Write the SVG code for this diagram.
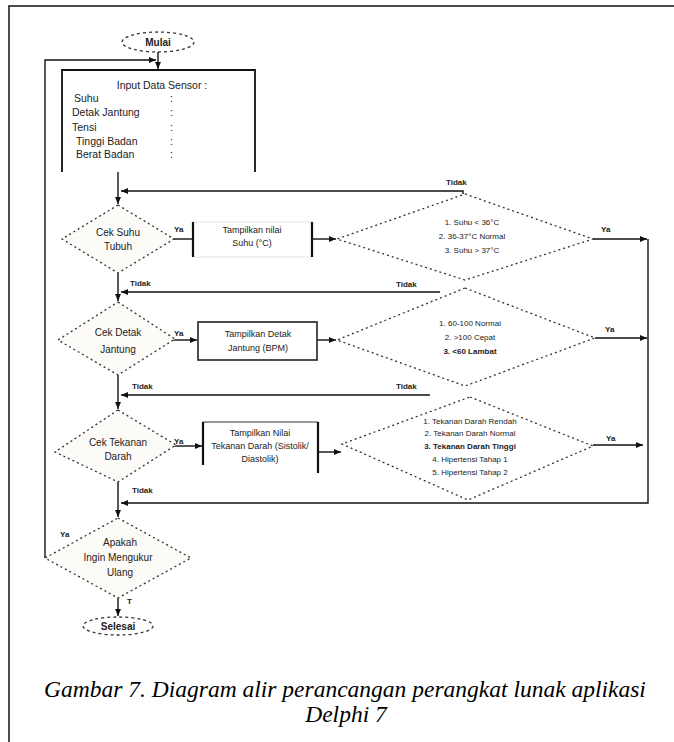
<svg xmlns="http://www.w3.org/2000/svg" width="674" height="742" viewBox="0 0 674 742">
<style>
.t{font-family:"Liberation Sans",Arial,sans-serif;fill:#222;}
.in{font-size:10.5px;}
.dt{font-size:10px;text-anchor:middle;}
.bx{font-size:9px;text-anchor:middle;}
.rt{font-size:8px;text-anchor:middle;}
.lb{font-size:8px;font-weight:bold;}
.cap{font-family:"Liberation Serif","Times New Roman",serif;font-style:italic;font-size:23.5px;fill:#000;text-anchor:middle;}
.dia{fill:#fdfbf8;stroke:#333;stroke-width:1.3;stroke-dasharray:2 3;}
.rdia{fill:none;stroke:#333;stroke-width:1.3;stroke-dasharray:2 3;}
.term{fill:#fff;stroke:#333;stroke-width:1.3;stroke-dasharray:3 3;}
.ln{fill:none;stroke:#111;stroke-width:1.4;}
.bar{fill:none;stroke:#111;stroke-width:2.2;}
</style>
<defs>
<marker id="ah" markerWidth="8" markerHeight="8" refX="7" refY="4" orient="auto" markerUnits="userSpaceOnUse">
<path d="M0,1 L7,4 L0,7 Z" fill="#111"/>
</marker>
</defs>
<rect width="674" height="742" fill="#fff"/>
<path d="M9,742 V6 H674" fill="none" stroke="#111" stroke-width="1.5"/>

<g id="connectors">
<path class="ln" d="M158,52 V69" marker-end="url(#ah)"/>
<path class="ln" d="M45,558 V60 H156" marker-end="url(#ah)"/>
<path class="ln" d="M118,172 V204" marker-end="url(#ah)"/>
<path class="ln" d="M463,194 V191 H121" marker-end="url(#ah)"/>
<path class="ln" d="M172,239 H193"/>
<path class="ln" d="M312,239 H336" marker-end="url(#ah)"/>
<path class="ln" d="M593,239 H647" marker-end="url(#ah)"/>
<path class="ln" d="M648,239 V503 H121" marker-end="url(#ah)"/>
<path class="ln" d="M595,338 H647" marker-end="url(#ah)"/>
<path class="ln" d="M593,445 H643" marker-end="url(#ah)"/>
<path class="ln" d="M118,273 V301" marker-end="url(#ah)"/>
<path class="ln" d="M440,292 H121" marker-end="url(#ah)"/>
<path class="ln" d="M172,340 H197" marker-end="url(#ah)"/>
<path class="ln" d="M317,340 H336" marker-end="url(#ah)"/>
<path class="ln" d="M118,375 V409" marker-end="url(#ah)"/>
<path class="ln" d="M430,395 H121" marker-end="url(#ah)"/>
<path class="ln" d="M173,446 H202" marker-end="url(#ah)"/>
<path class="ln" d="M318,452 H341" marker-end="url(#ah)"/>
<path class="ln" d="M118,482 V517" marker-end="url(#ah)"/>
<path class="ln" d="M118,598 V616" marker-end="url(#ah)"/>
<text class="t lb" x="446" y="185">Tidak</text>
<text class="t lb" x="601" y="232">Ya</text>
<text class="t lb" x="130" y="286">Tidak</text>
<text class="t lb" x="396" y="287">Tidak</text>
<text class="t lb" x="174" y="232">Ya</text>
<text class="t lb" x="174" y="336">Ya</text>
<text class="t lb" x="605" y="332">Ya</text>
<text class="t lb" x="132" y="389">Tidak</text>
<text class="t lb" x="396" y="389">Tidak</text>
<text class="t lb" x="174" y="444">Ya</text>
<text class="t lb" x="606" y="441">Ya</text>
<text class="t lb" x="132" y="493">Tidak</text>
<text class="t lb" x="60" y="537">Ya</text>
<text class="t lb" x="127" y="604">T</text>
</g>

<g id="start">
<ellipse class="term" cx="158" cy="42" rx="36" ry="10"/>
<text class="t dt" x="158" y="45.5" font-weight="bold">Mulai</text>
</g>

<g id="input">
<path class="bar" d="M62,172 V70 H255 V172" style="stroke-width:1.8"/>
<text class="t in" x="162" y="89" text-anchor="middle">Input Data Sensor :</text>
<text class="t in" x="74" y="102">Suhu</text><text class="t in" x="170" y="102">:</text>
<text class="t in" x="72" y="116">Detak Jantung</text><text class="t in" x="170" y="116">:</text>
<text class="t in" x="72" y="131">Tensi</text><text class="t in" x="170" y="131">:</text>
<text class="t in" x="76" y="145">Tinggi Badan</text><text class="t in" x="170" y="145">:</text>
<text class="t in" x="76" y="158">Berat Badan</text><text class="t in" x="170" y="158">:</text>
</g>

<g id="d1">
<polygon class="dia" points="118,205 174,239 118,273 62,239"/>
<text class="t dt" x="118" y="236">Cek Suhu</text>
<text class="t dt" x="118" y="250">Tubuh</text>
</g>
<g id="b1">
<rect x="193" y="222" width="119" height="35" fill="none" stroke="#e4e4e4" stroke-width="1"/>
<path class="bar" d="M193,222 V257 M312,222 V257"/>
<text class="t bx" x="252" y="233">Tampilkan nilai</text>
<text class="t bx" x="252" y="246">Suhu (°C)</text>
</g>
<g id="r1">
<polygon class="rdia" points="465,194 593,239 465,280 337,239"/>
<text class="t rt" x="472" y="225">1. Suhu &lt; 36°C</text>
<text class="t rt" x="472" y="239">2. 36-37°C Normal</text>
<text class="t rt" x="472" y="253">3. Suhu &gt; 37°C</text>
</g>

<g id="d2">
<polygon class="dia" points="118,302 175,339 118,375 58,340"/>
<text class="t dt" x="118" y="336">Cek Detak</text>
<text class="t dt" x="118" y="353">Jantung</text>
</g>
<g id="b2">
<rect x="198" y="322" width="119" height="38" fill="#fff" stroke="#222" stroke-width="1.6"/>
<text class="t bx" x="258" y="337">Tampilkan Detak</text>
<text class="t bx" x="258" y="351">Jantung (BPM)</text>
</g>
<g id="r2">
<polygon class="rdia" points="465,288 595,338 465,386 337,340"/>
<text class="t rt" x="470" y="326">1. 60-100 Normal</text>
<text class="t rt" x="470" y="340">2. &gt;100 Cepat</text>
<text class="t rt" x="470" y="354" font-weight="bold">3. &lt;60 Lambat</text>
</g>

<g id="d3">
<polygon class="dia" points="118,410 176,445 118,482 55,452"/>
<text class="t dt" x="118" y="446">Cek Tekanan</text>
<text class="t dt" x="118" y="460">Darah</text>
</g>
<g id="b3">
<path d="M203,422 H318" fill="none" stroke="#333" stroke-width="1.2"/>
<path class="bar" d="M203,422 V465 M318,422 V473"/>
<text class="t bx" x="260" y="436">Tampilkan Nilai</text>
<text class="t bx" x="260" y="449">Tekanan Darah (Sistolik/</text>
<text class="t bx" x="260" y="462">Diastolik)</text>
</g>
<g id="r3">
<polygon class="rdia" points="470,397 593,446 468,500 342,444"/>
<text class="t rt" x="470" y="424">1. Tekanan Darah Rendah</text>
<text class="t rt" x="470" y="436">2. Tekanan Darah Normal</text>
<text class="t rt" x="470" y="449" font-weight="bold">3. Tekanan Darah Tinggi</text>
<text class="t rt" x="470" y="462">4. Hipertensi Tahap 1</text>
<text class="t rt" x="470" y="475">5. Hipertensi Tahap 2</text>
</g>

<g id="d4">
<polygon class="dia" points="118,518 191,558 118,598 45,558"/>
<text class="t dt" x="120" y="546">Apakah</text>
<text class="t dt" x="118" y="561">Ingin Mengukur</text>
<text class="t dt" x="120" y="576">Ulang</text>
</g>

<g id="end">
<ellipse class="term" cx="118" cy="626" rx="35" ry="9"/>
<text class="t dt" x="118" y="629.5" font-weight="bold">Selesai</text>
</g>

<g id="caption">
<text class="cap" x="345" y="697">Gambar 7. Diagram alir perancangan perangkat lunak aplikasi</text>
<text class="cap" x="346" y="722">Delphi 7</text>
</g>
</svg>
